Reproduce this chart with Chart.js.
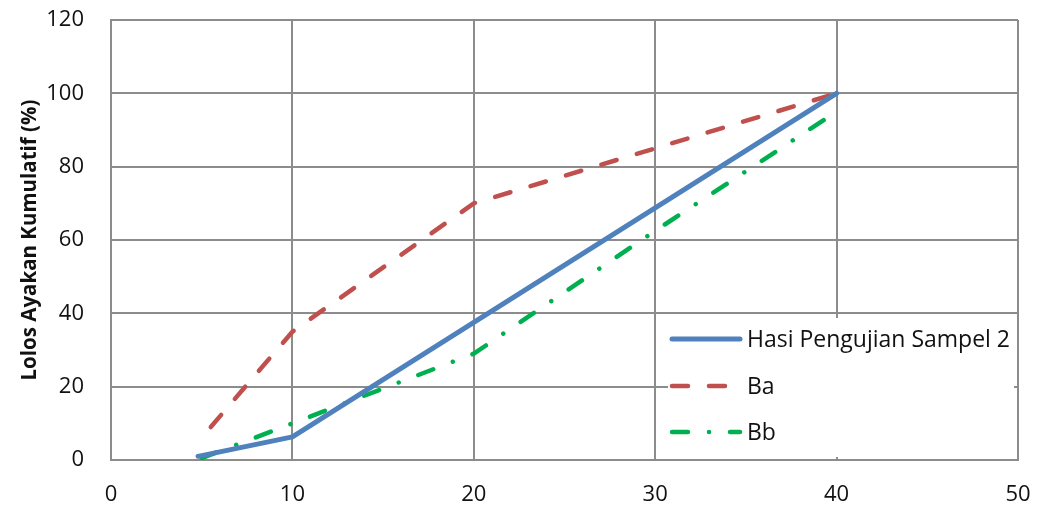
<!DOCTYPE html>
<html>
<head>
<meta charset="utf-8">
<script src="https://cdn.jsdelivr.net/npm/chart.js@4/dist/chart.umd.min.js"></script>
<style>
  html, body { margin: 0; padding: 0; background: #ffffff; }
  #wrap { width: 1037px; height: 510px; position: relative; }
</style>
</head>
<body>
<div id="wrap"><canvas id="c" width="1037" height="510"></canvas></div>
<script>
// Sieve grading: sample result against upper (Ba) and lower (Bb) limits
const seriesNames = ['Hasi Pengujian Sampel 2', 'Ba', 'Bb'];

const sampleX = [4.8, 10, 40];
const sampleY = [1, 6.3, 100];

const baX = [5.5, 10, 20, 30, 40];
const baY = [9, 35, 70, 85, 100];

const bbX = [5, 10, 20, 30, 40];
const bbY = [0.5, 10, 29, 62.5, 95];

const xTicks = [0, 10, 20, 30, 40, 50];
const yTicks = [0, 20, 40, 60, 80, 100, 120];

const yTitle = 'Lolos Ayakan Kumulatif (%)';

const FONT = '"Open Sans", "Noto Sans", sans-serif';

function pts(xs, ys) { return xs.map((x, i) => ({ x: x, y: ys[i] })); }

const styles = [
  { color: '#4F81BD', width: 5, dash: [] },
  { color: '#C0504D', width: 4.5, dash: [16, 21] },
  { color: '#00B050', width: 4.5, dash: [16, 21, 0.01, 21] }
];

const datasets = [pts(sampleX, sampleY), pts(baX, baY), pts(bbX, bbY)].map((d, i) => ({
  label: seriesNames[i],
  data: d,
  borderColor: styles[i].color,
  backgroundColor: styles[i].color,
  borderWidth: styles[i].width,
  borderDash: styles[i].dash,
  borderCapStyle: 'round',
  borderJoinStyle: 'round',
  pointRadius: 0,
  pointHoverRadius: 0,
  showLine: true,
  tension: 0,
  fill: false
}));

// Legend box drawn inside the plot area, lower right
const innerLegend = {
  id: 'innerLegend',
  afterDraw(chart) {
    const ctx = chart.ctx;
    ctx.save();
    ctx.fillStyle = '#ffffff';
    ctx.fillRect(668, 318, 346, 139);
    const rows = [339, 386, 432];
    chart.data.datasets.forEach((ds, i) => {
      const y = rows[i];
      ctx.beginPath();
      ctx.strokeStyle = ds.borderColor;
      ctx.lineWidth = ds.borderWidth;
      ctx.lineCap = 'round';
      ctx.setLineDash(ds.borderDash || []);
      ctx.moveTo(672, y);
      ctx.lineTo(740, y);
      ctx.stroke();
      ctx.setLineDash([]);
      ctx.fillStyle = '#111111';
      ctx.font = '23px ' + FONT;
      ctx.textBaseline = 'middle';
      ctx.textAlign = 'left';
      ctx.fillText(ds.label, 747, y + 1);
    });
    ctx.restore();
  }
};

new Chart(document.getElementById('c'), {
  type: 'scatter',
  data: { datasets: datasets },
  plugins: [innerLegend],
  options: {
    responsive: false,
    animation: false,
    devicePixelRatio: 1,
    layout: { padding: { top: 20, right: 19, left: 0, bottom: 0 } },
    plugins: {
      legend: { display: false },
      tooltip: { enabled: false }
    },
    scales: {
      x: {
        type: 'linear',
        min: 0,
        max: 50,
        afterBuildTicks(scale) { scale.ticks = xTicks.map(v => ({ value: v })); },
        afterFit(scale) {
          scale.height = 50;
          scale.paddingLeft = 0;
          scale.paddingRight = 0;
        },
        grid: { color: '#8c8c8c', lineWidth: 2, drawTicks: false },
        border: { color: '#8c8c8c', width: 2 },
        ticks: {
          color: '#111111',
          padding: 22,
          maxRotation: 0,
          font: { family: FONT, size: 22 }
        }
      },
      y: {
        type: 'linear',
        min: 0,
        max: 120,
        afterBuildTicks(scale) { scale.ticks = yTicks.map(v => ({ value: v })); },
        afterFit(scale) {
          scale.width = 111;
          scale.paddingTop = 0;
          scale.paddingBottom = 0;
        },
        grid: { color: '#8c8c8c', lineWidth: 2, drawTicks: false },
        border: { color: '#8c8c8c', width: 2 },
        title: {
          display: true,
          text: yTitle,
          color: '#111111',
          font: { family: FONT, size: 20.5, weight: 'bold' },
          padding: { top: 18, bottom: 0 }
        },
        ticks: {
          color: '#111111',
          padding: 27,
          font: { family: FONT, size: 22 }
        }
      }
    }
  }
});
</script>
</body>
</html>
